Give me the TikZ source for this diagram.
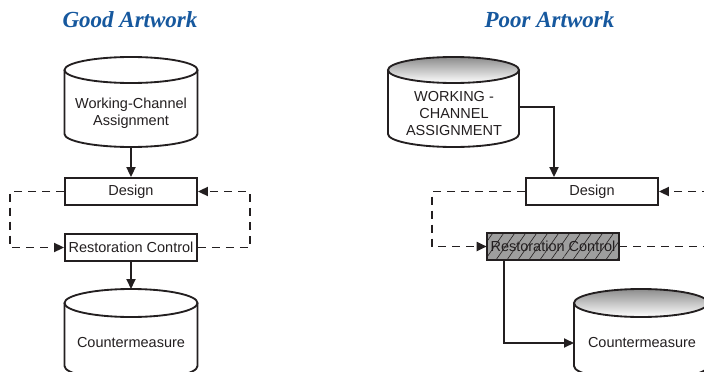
\documentclass[tikz,border=0pt]{standalone}
\usepackage{fontspec}
\setmainfont{Liberation Sans}
\newfontfamily\titlefont{Liberation Serif}
\usetikzlibrary{arrows.meta,patterns.meta}
\definecolor{titleblue}{RGB}{22,88,158}
\definecolor{ink}{RGB}{35,31,32}
\def\drum[#1](#2,#3)(#4:#5:#6){\draw[line width=0.65mm, color=ink, fill=white] ({#2-#5},#3) -- ({#2-#5},#4) arc (180:0:#5 and #6) -- ({#2+#5},#3);
	\draw[line width=0.65mm, color=ink, #1] (#2,#3) ellipse (#5 and #6);}
\tikzset{
	lbl/.style={font=\fontsize{14.5}{17}\selectfont, text=ink, align=center},
	box/.style={lbl, draw=ink, line width=0.65mm, minimum width=132pt, minimum height=27pt, inner sep=0pt},
	arr/.style={line width=0.65mm, color=ink, -{Triangle[length=10pt,width=9pt]}},
	dsh/.style={arr, dash pattern=on 8pt off 6pt},
	ttl/.style={font=\titlefont\fontsize{23}{26}\selectfont\bfseries\itshape, text=titleblue}
}

\begin{document}
\begin{tikzpicture}[x=1pt, y=-1pt]
		%%%%% START %%%%%
		\clip (0, 0) rectangle (704, 372);
		
		\node[ttl] (good) at (130, 20) {Good Artwork};
		\node[ttl] (poor) at (549.5, 20) {Poor Artwork};
		
		%%%%% GOOD %%%%%
		\drum[fill=white](131, 70)(134:66.5:13)
		\node[lbl] (wcaL) at (131, 113.5) {Working-Channel\\Assignment};
		\coordinate (wcaLbot) at (131, 147);
		
		\node[box] (dsgL) at (131, 191.5) {Design};
		\node[box] (rcL) at (131, 247.5) {Restoration Control};
		
		\drum[fill=white](131, 303)(366:66.5:14)
		\node[lbl] (cmL) at (131, 343) {Countermeasure};
		\coordinate (cmLtop) at (131, 289);
		
		\draw[arr] (wcaLbot) -- (dsgL.north);
		\draw[arr] (rcL.south) -- (cmLtop);
		\draw[dsh] (dsgL.west) -- ++(-54, 0) |- (rcL.west);
		\draw[dsh] (rcL.east) -- ++(52, 0) |- (dsgL.east);
		
		%%%%% POOR %%%%%
		\drum[top color=black!45, bottom color=white](453.5, 70)(134:65.5:13)
		\node[lbl] (wcaR) at (454, 114) {WORKING -\\CHANNEL\\ASSIGNMENT};
		\coordinate (wcaRside) at (519, 107);
		
		\node[box] (dsgR) at (592, 191.5) {Design};
		\node[box, preaction={fill=black!38}, pattern={Lines[angle=55, distance=9pt, line width=0.6pt]}, pattern color=ink] (rcR) at (553, 246.5) {Restoration Control};
		
		\drum[top color=black!45, bottom color=white](641, 303)(366:67:14)
		\node[lbl] (cmR) at (642, 343) {Countermeasure};
		\coordinate (cmRside) at (574, 343);
		
		\coordinate (edgeA) at (710, 191.5);
		\coordinate (edgeB) at (710, 246.5);
		
		\draw[arr] (wcaRside) -| ([xshift=-38pt]dsgR.north);
		\draw[dsh] (dsgR.west) -- ++(-93, 0) |- (rcR.west);
		\draw[dsh] (edgeA) -- (dsgR.east);
		\draw[dsh, -] (rcR.east) -- (edgeB);
		\draw[arr] ([xshift=-49pt]rcR.south) |- (cmRside);
		
		%%%%% END %%%%%
	\end{tikzpicture}
\end{document}
